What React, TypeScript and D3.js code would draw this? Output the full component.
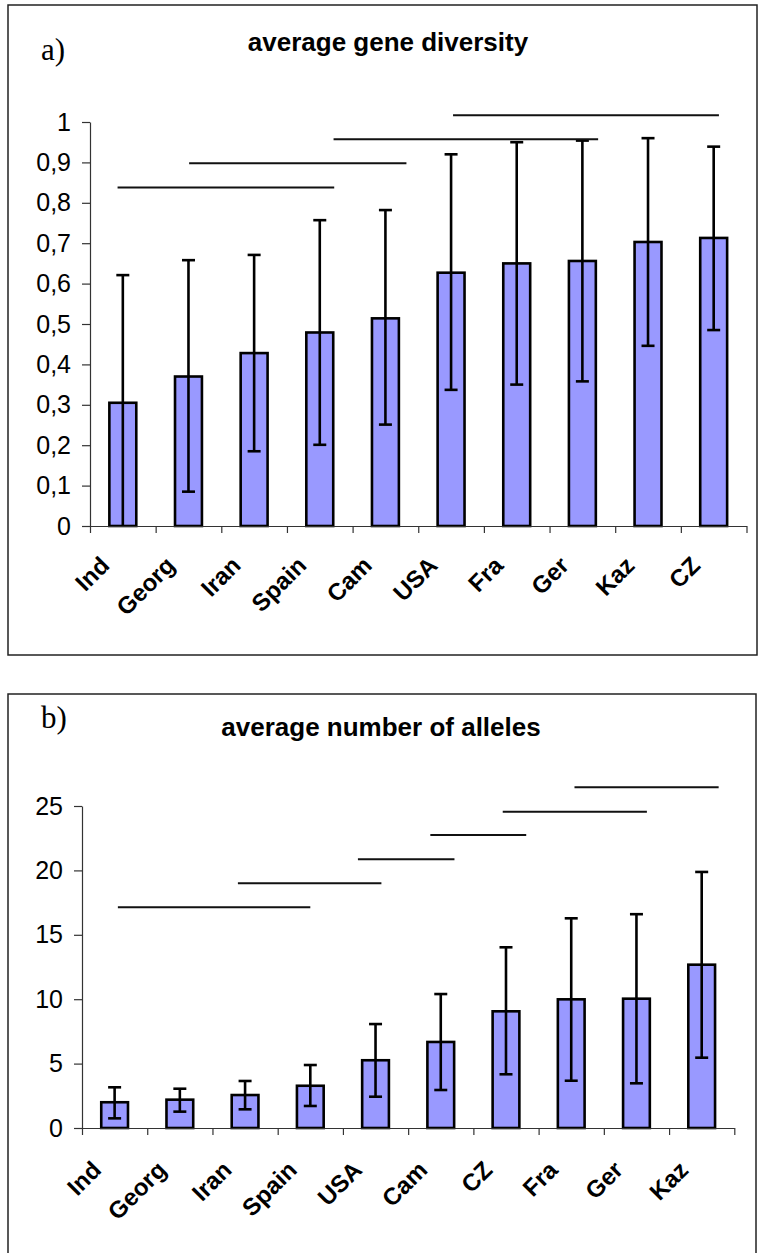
import * as d3 from "d3";
import { useEffect, useRef } from "react";

// panel a) average gene diversity
const popsA = ["Ind", "Georg", "Iran", "Spain", "Cam", "USA", "Fra", "Ger", "Kaz", "CZ"];
const diversity = [0.305, 0.37, 0.428, 0.479, 0.514, 0.627, 0.65, 0.656, 0.703, 0.713];
const diversityHigh = [0.621, 0.658, 0.671, 0.757, 0.782, 0.92, 0.95, 0.954, 0.96, 0.939];
const diversityLow = [0, 0.085, 0.185, 0.201, 0.251, 0.337, 0.35, 0.358, 0.446, 0.485];
const ticksA = [0, 0.1, 0.2, 0.3, 0.4, 0.5, 0.6, 0.7, 0.8, 0.9, 1];
// homogeneous groups (start / end in category units, height in data units)
const groupStartA = [0.42, 1.51, 3.71, 5.53];
const groupEndA = [3.72, 4.82, 7.74, 9.58];
const groupLevelA = [0.838, 0.898, 0.957, 1.017];

// panel b) average number of alleles
const popsB = ["Ind", "Georg", "Iran", "Spain", "USA", "Cam", "CZ", "Fra", "Ger", "Kaz"];
const alleles = [2.0, 2.2, 2.56, 3.28, 5.26, 6.68, 9.06, 9.99, 10.04, 12.68];
const allelesHigh = [3.16, 3.05, 3.65, 4.89, 8.07, 10.4, 14.03, 16.28, 16.6, 19.88];
const allelesLow = [0.75, 1.27, 1.45, 1.71, 2.43, 2.95, 4.17, 3.67, 3.47, 5.46];
const ticksB = [0, 5, 10, 15, 20, 25];
const groupStartB = [0.55, 2.39, 4.23, 5.34, 6.45, 7.55];
const groupEndB = [3.5, 4.59, 5.71, 6.81, 8.66, 9.76];
const groupLevelB = [17.13, 19.0, 20.86, 22.75, 24.56, 26.45];

const SANS = "'Liberation Sans', Arial, sans-serif";
const SERIF = "'Liberation Serif', 'Times New Roman', serif";
const commaFmt = d3
  .formatLocale({ decimal: ",", thousands: ".", grouping: [3], currency: ["", ""] })
  .format(".1~f");

const drawPanel = (svg, p) => {
  const g = svg.append("g");
  const n = p.cats.length;

  // frame
  g.append("rect")
    .attr("x", p.frame[0])
    .attr("y", p.frame[1])
    .attr("width", p.frame[2])
    .attr("height", p.frame[3])
    .attr("fill", "none")
    .attr("stroke", "#222")
    .attr("stroke-width", 1.5);

  g.append("text")
    .attr("x", p.tagX)
    .attr("y", p.tagY)
    .attr("font-family", SERIF)
    .attr("font-size", 31)
    .text(p.tag);

  g.append("text")
    .attr("x", p.titleX)
    .attr("y", p.titleY)
    .attr("text-anchor", "middle")
    .attr("font-family", SANS)
    .attr("font-weight", "bold")
    .attr("font-size", 26)
    .text(p.title);

  const x = d3
    .scaleBand()
    .domain(p.cats)
    .range([p.x0, p.x1])
    .paddingInner(0.59)
    .paddingOuter(0.295);
  const xi = d3.scaleLinear().domain([0, n]).range([p.x0, p.x1]);
  const y = d3.scaleLinear().domain(p.domain).range([p.y0, p.y1]);

  // y axis
  const ya = g
    .append("g")
    .attr("transform", `translate(${p.x0},0)`)
    .call(
      d3
        .axisLeft(y)
        .tickValues(p.ticks)
        .tickFormat(p.fmt)
        .tickSize(8)
        .tickSizeOuter(0)
        .tickPadding(p.tickPad)
    );
  ya.selectAll("path, line").attr("stroke", "#333").attr("stroke-width", 1.2);
  ya.selectAll("text")
    .attr("font-family", SANS)
    .attr("font-size", 25)
    .attr("fill", "#000");

  // bars
  g.append("g")
    .selectAll("rect")
    .data(p.values)
    .join("rect")
    .attr("x", (d, i) => x(p.cats[i]))
    .attr("y", (d) => y(d))
    .attr("width", x.bandwidth())
    .attr("height", (d) => y(0) - y(d))
    .attr("fill", "#9999ff")
    .attr("stroke", "#000")
    .attr("stroke-width", 2.6);

  // error bars
  const eb = g.append("g").attr("stroke", "#000").attr("stroke-width", 2.6);
  p.values.forEach((v, i) => {
    const cx = x(p.cats[i]) + x.bandwidth() / 2;
    eb.append("line")
      .attr("x1", cx)
      .attr("x2", cx)
      .attr("y1", y(p.high[i]))
      .attr("y2", y(p.low[i]));
    eb.append("line")
      .attr("x1", cx - 6.5)
      .attr("x2", cx + 6.5)
      .attr("y1", y(p.high[i]))
      .attr("y2", y(p.high[i]));
    if (p.low[i] > 0) {
      eb.append("line")
        .attr("x1", cx - 6.5)
        .attr("x2", cx + 6.5)
        .attr("y1", y(p.low[i]))
        .attr("y2", y(p.low[i]));
    }
  });

  // x axis with ticks between categories
  const xa = g
    .append("g")
    .attr("transform", `translate(0,${p.y0})`)
    .call(
      d3
        .axisBottom(xi)
        .tickValues(d3.range(n + 1))
        .tickFormat(() => "")
        .tickSize(7)
        .tickSizeOuter(0)
    );
  xa.selectAll("path, line").attr("stroke", "#333").attr("stroke-width", 1.2);

  g.append("g")
    .selectAll("text")
    .data(p.cats)
    .join("text")
    .attr(
      "transform",
      (d) => `translate(${x(d) + x.bandwidth() / 2 - 12},${p.y0 + p.labelDy}) rotate(-45)`
    )
    .attr("text-anchor", "end")
    .attr("font-family", SANS)
    .attr("font-weight", "bold")
    .attr("font-size", 24)
    .text((d) => d);

  // group lines
  g.append("g")
    .selectAll("line")
    .data(p.gLevel)
    .join("line")
    .attr("x1", (d, i) => xi(p.gStart[i]))
    .attr("x2", (d, i) => xi(p.gEnd[i]))
    .attr("y1", (d) => y(d))
    .attr("y2", (d) => y(d))
    .attr("stroke", "#111")
    .attr("stroke-width", 2);
};

export default function App() {
  const ref = useRef(null);

  useEffect(() => {
    const svg = d3.select(ref.current);
    svg.selectAll("*").remove();

    drawPanel(svg, {
      frame: [8, 5, 749, 650],
      tag: "a)",
      tagX: 41,
      tagY: 60,
      title: "average gene diversity",
      titleX: 388,
      titleY: 51,
      cats: popsA,
      values: diversity,
      high: diversityHigh,
      low: diversityLow,
      ticks: ticksA,
      fmt: commaFmt,
      domain: [0, 1],
      x0: 90,
      x1: 746.5,
      y0: 526,
      y1: 122,
      tickPad: 11,
      labelDy: 41,
      gStart: groupStartA,
      gEnd: groupEndA,
      gLevel: groupLevelA,
    });

    drawPanel(svg, {
      frame: [8, 694, 748, 600],
      tag: "b)",
      tagX: 41,
      tagY: 728,
      title: "average number of alleles",
      titleX: 381,
      titleY: 736,
      cats: popsB,
      values: alleles,
      high: allelesHigh,
      low: allelesLow,
      ticks: ticksB,
      fmt: d3.format("d"),
      domain: [0, 25],
      x0: 82,
      x1: 734.3,
      y0: 1128,
      y1: 806,
      tickPad: 11,
      labelDy: 43.5,
      gStart: groupStartB,
      gEnd: groupEndB,
      gLevel: groupLevelB,
    });
  }, []);

  return (
    <div style={{ position: "absolute", left: 0, top: 0 }}>
      <svg ref={ref} width={758} height={1253} style={{ display: "block", background: "#fff" }} />
    </div>
  );
}
